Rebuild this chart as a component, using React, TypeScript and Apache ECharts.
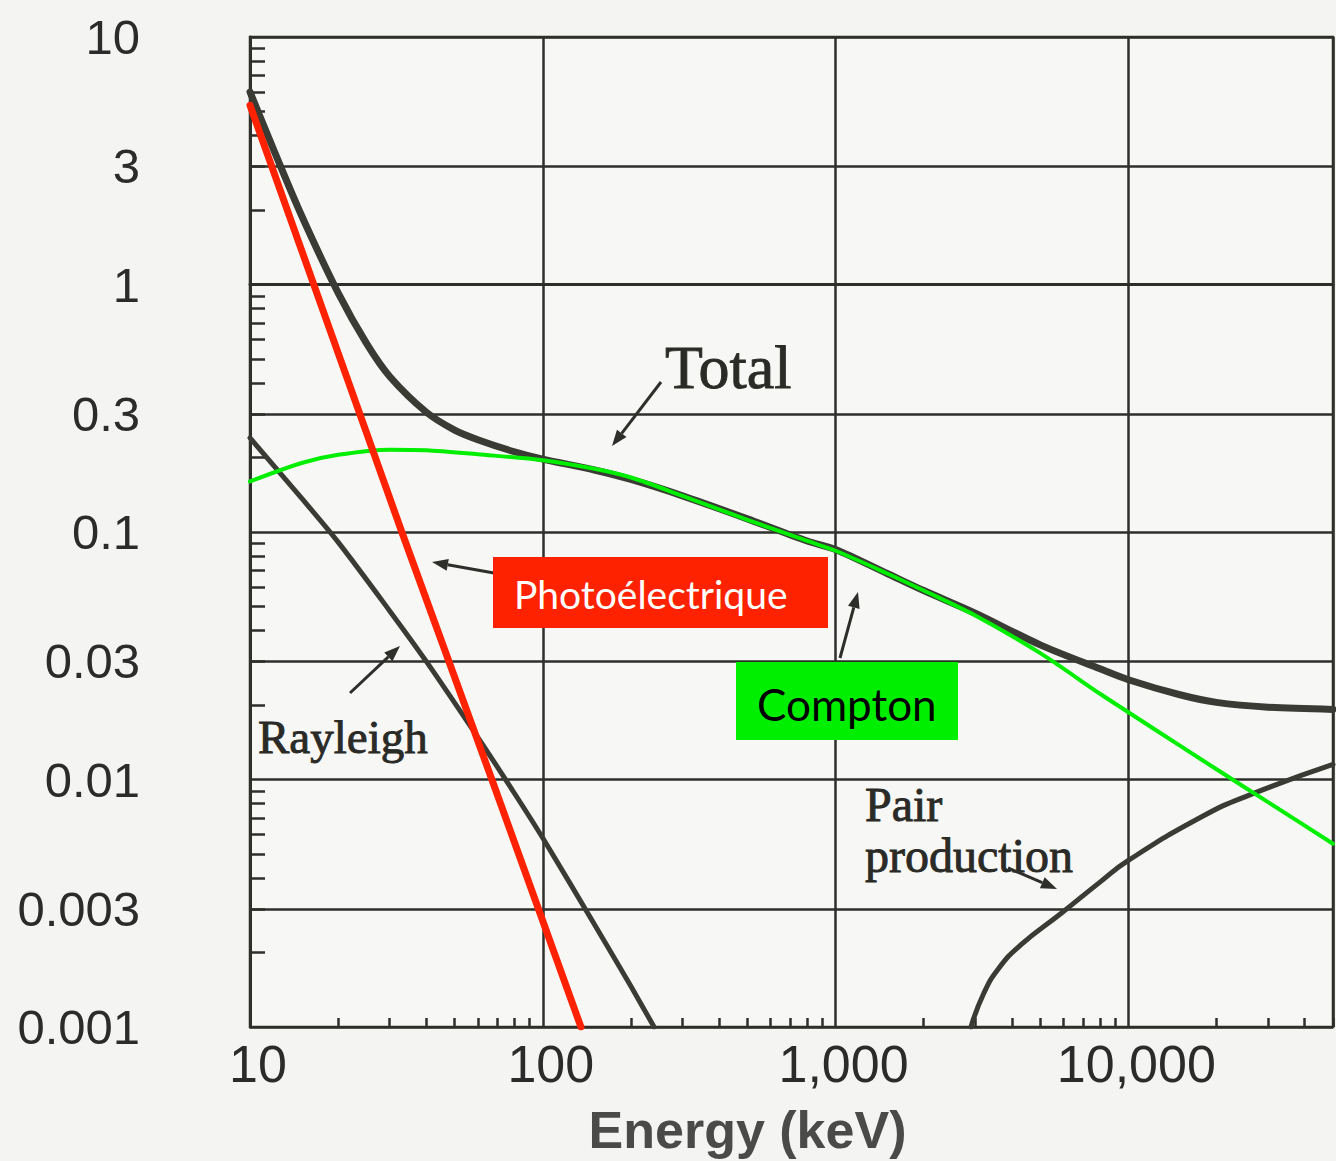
import React, { useEffect, useRef } from "react";
import * as echarts from "echarts";

// Axis extents (keV on x, attenuation on y)
const X_MIN = 10;
const X_MAX = 50000;
const Y_MIN = 0.001;
const Y_MAX = 10;

// Extra labelled grid values between the decades
const Y_HALF_STEPS = [3, 0.3, 0.03, 0.003];

// Decades and multipliers used for the small log ticks
const X_DECADES = [1, 2, 3, 4];
const Y_DECADES = [-3, -2, -1, 0];
const MINOR_STEPS = [2, 3, 4, 5, 6, 7, 8, 9];

// Total attenuation
const totalEnergy = [10, 12, 15, 20, 25, 30, 40, 50, 60, 80, 100, 150, 200, 300, 500, 800, 1000, 1500, 2000, 3000, 5000, 8000, 10000, 15000, 20000, 30000, 50000];
const totalValue = [6.0, 3.54, 1.9, 0.925, 0.578, 0.425, 0.305, 0.258, 0.236, 0.211, 0.197, 0.178, 0.163, 0.14, 0.113, 0.092, 0.085, 0.068, 0.058, 0.047, 0.035, 0.028, 0.0253, 0.022, 0.0205, 0.0196, 0.0192];

// Compton scattering
const comptonEnergy = [10, 15, 20, 30, 40, 60, 100, 150, 200, 300, 500, 800, 1000, 1500, 2000, 3000, 5000, 8000, 10000, 15000, 20000, 30000, 50000];
const comptonValue = [0.16, 0.19, 0.205, 0.215, 0.214, 0.206, 0.195, 0.18, 0.166, 0.14, 0.112, 0.092, 0.084, 0.068, 0.058, 0.046, 0.0324, 0.0222, 0.0187, 0.0137, 0.011, 0.0081, 0.0055];

// Rayleigh scattering
const rayleighEnergy = [10, 15, 20, 30, 40, 60, 80, 100, 150, 200, 240];
const rayleighValue = [0.24, 0.137, 0.091, 0.048, 0.03, 0.0148, 0.0088, 0.0058, 0.0026, 0.00146, 0.001];

// Pair production
const pairEnergy = [2900, 3200, 3600, 4300, 5900, 8000, 10000, 18000, 26000, 50000];
const pairValue = [0.001, 0.00136, 0.00172, 0.00215, 0.00288, 0.00385, 0.00471, 0.00712, 0.00867, 0.0115];

// Photoelectric absorption
const photoEnergy = [10, 33, 67, 135];
const photoValue = [5.3, 0.1, 0.01, 0.001];

const INK = "#2e2e2b";
const CURVE = "#3b3b35";
const RED = "#ff2200";
const GREEN = "#00ee00";
const SANS = '"Liberation Sans", Arial, sans-serif';

const zip = (xs: number[], ys: number[]) => xs.map((x, i) => [x, ys[i]]);

const minorTicks = (decades: number[]) =>
  decades.flatMap((d) => MINOR_STEPS.map((k) => Math.log10(k) + d));

function arrow(x1: number, y1: number, x2: number, y2: number) {
  const dx = x2 - x1;
  const dy = y2 - y1;
  const len = Math.hypot(dx, dy);
  const ux = dx / len;
  const uy = dy / len;
  const head = 16;
  const half = 6;
  const bx = x2 - ux * head;
  const by = y2 - uy * head;
  return [
    {
      type: "line",
      shape: { x1, y1, x2: bx, y2: by },
      style: { stroke: INK, lineWidth: 3 },
      z: 20,
    },
    {
      type: "polygon",
      shape: {
        points: [
          [x2, y2],
          [bx - uy * half, by + ux * half],
          [bx + uy * half, by - ux * half],
        ],
      },
      style: { fill: INK },
      z: 20,
    },
  ];
}

const serifText = (text: string, x: number, y: number, size: number) => ({
  type: "text",
  x,
  y,
  z: 20,
  style: {
    text,
    fill: "#2a2a26",
    stroke: "#2a2a26",
    lineWidth: 0.9,
    font: `${size}px "Liberation Serif", "DejaVu Serif", serif`,
    align: "left",
    verticalAlign: "middle",
  },
});

function buildOption(): any {
  const curve = (name: string, data: number[][], color: string, width: number, z: number, smooth: number | boolean) => ({
    name,
    type: "line",
    data,
    showSymbol: false,
    symbol: "none",
    smooth,
    clip: true,
    z,
    lineStyle: { color, width, cap: "round", join: "round" },
    silent: true,
  });

  return {
    animation: false,
    backgroundColor: "#f4f4f2",
    grid: {
      left: 250,
      top: 37,
      width: 1083,
      height: 991,
      show: true,
      backgroundColor: "#f7f7f5",
      borderColor: INK,
      borderWidth: 2.5,
    },
    xAxis: [
      {
        type: "log",
        logBase: 10,
        min: X_MIN,
        max: X_MAX,
        position: "bottom",
        axisLine: { show: true, lineStyle: { color: INK, width: 3 } },
        axisTick: { show: false },
        splitLine: { show: true, lineStyle: { color: INK, width: 2.5 } },
        axisLabel: {
          showMaxLabel: false,
          margin: 11,
          padding: [0, 0, 0, 16],
          fontSize: 52,
          color: "#2b2b2b",
          fontFamily: SANS,
          formatter: (v: number) => Number(v).toLocaleString("en-US"),
        },
        name: "Energy (keV)",
        nameLocation: "middle",
        nameGap: 77,
        nameTextStyle: {
          fontSize: 52,
          fontWeight: "bold",
          color: "#4a4a48",
          fontFamily: SANS,
          padding: [0, 88, 0, 0],
        },
      },
      {
        // small log ticks along the energy axis
        type: "value",
        min: Math.log10(X_MIN),
        max: Math.log10(X_MAX),
        position: "bottom",
        axisLine: { show: false },
        splitLine: { show: false },
        axisLabel: { show: false },
        axisTick: {
          show: true,
          inside: true,
          length: 9,
          lineStyle: { color: INK, width: 2.5 },
          customValues: minorTicks(X_DECADES),
        },
      },
    ],
    yAxis: [
      {
        type: "log",
        logBase: 10,
        min: Y_MIN,
        max: Y_MAX,
        position: "left",
        axisLine: { show: true, lineStyle: { color: INK, width: 3 } },
        axisTick: { show: false },
        splitLine: { show: true, lineStyle: { color: INK, width: 2.5 } },
        axisLabel: {
          margin: 110,
          fontSize: 49,
          color: "#2b2b2b",
          fontFamily: SANS,
          formatter: (v: number) => String(v),
        },
      },
      {
        // small log ticks along the attenuation axis
        type: "value",
        min: Math.log10(Y_MIN),
        max: Math.log10(Y_MAX),
        position: "left",
        axisLine: { show: false },
        splitLine: { show: false },
        axisLabel: { show: false },
        axisTick: {
          show: true,
          inside: true,
          length: 15,
          lineStyle: { color: INK, width: 2.5 },
          customValues: minorTicks(Y_DECADES),
        },
      },
    ],
    series: [
      {
        name: "grid",
        type: "line",
        data: [],
        z: 1,
        silent: true,
        markLine: {
          z: 1,
          silent: true,
          symbol: "none",
          animation: false,
          lineStyle: { color: INK, width: 2.5, type: "solid" },
          label: {
            show: true,
            position: "start",
            distance: 110,
            fontSize: 49,
            color: "#2b2b2b",
            fontFamily: SANS,
          },
          emphasis: { disabled: true },
          data: Y_HALF_STEPS.map((v) => [
            { coord: [X_MIN, v], label: { formatter: String(v) } },
            { coord: [X_MAX, v] },
          ]),
        },
      },
      curve("Rayleigh", zip(rayleighEnergy, rayleighValue), CURVE, 5, 2, 0.3),
      curve("Pair production", zip(pairEnergy, pairValue), CURVE, 5, 2, 0.5),
      curve("Total", zip(totalEnergy, totalValue), CURVE, 7, 3, 0.3),
      curve("Compton", zip(comptonEnergy, comptonValue), GREEN, 4, 4, 0.3),
      curve("Photoélectrique", zip(photoEnergy, photoValue), RED, 7, 5, false),
    ],
    graphic: [
      serifText("Total", 665, 367, 62),
      ...arrow(661, 382, 612, 446),
      serifText("Rayleigh", 258, 737, 47),
      ...arrow(350, 693, 400, 646),
      serifText("Pair", 865, 804, 48),
      serifText("production", 865, 855, 48),
      ...arrow(1008, 868, 1057, 889),
      ...arrow(494, 573, 432, 562),
      {
        type: "rect",
        shape: { x: 493, y: 557, width: 335, height: 71 },
        style: { fill: RED },
        z: 21,
      },
      {
        type: "text",
        x: 514,
        y: 594,
        z: 22,
        style: {
          text: "Photoélectrique",
          fill: "#ffffff",
          font: '39px Lato, "Open Sans", sans-serif',
          align: "left",
          verticalAlign: "middle",
        },
      },
      ...arrow(840, 658, 858, 592),
      {
        type: "rect",
        shape: { x: 736, y: 662, width: 222, height: 78 },
        style: { fill: GREEN },
        z: 21,
      },
      {
        type: "text",
        x: 757,
        y: 704,
        z: 22,
        style: {
          text: "Compton",
          fill: "#000000",
          font: '44px Lato, "Open Sans", sans-serif',
          align: "left",
          verticalAlign: "middle",
        },
      },
    ],
  };
}

export default function App() {
  const ref = useRef<HTMLDivElement>(null);
  useEffect(() => {
    if (!ref.current) return;
    const chart = echarts.init(ref.current, null, { renderer: "svg" });
    chart.setOption(buildOption());
    return () => chart.dispose();
  }, []);
  return (
    <div
      ref={ref}
      style={{ position: "absolute", left: 0, top: 0, width: 1336, height: 1161 }}
    />
  );
}
